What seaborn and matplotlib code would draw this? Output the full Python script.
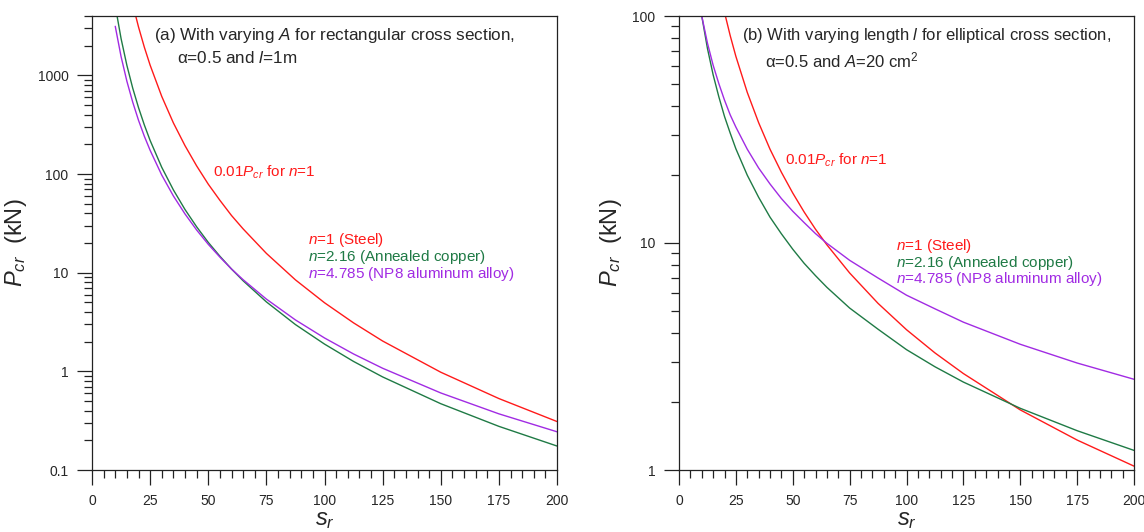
import numpy as np
import pandas as pd
import matplotlib
matplotlib.use("Agg")
import matplotlib.pyplot as plt
import seaborn as sns
from matplotlib.ticker import FixedLocator, FuncFormatter, LogLocator, NullFormatter, MultipleLocator

# slenderness ratio samples
s_a = [10, 12.5, 15, 17.5, 20, 22.5, 25, 30, 35, 40, 45, 50, 55, 60, 65, 75, 87.5, 100, 112.5, 125, 150, 175, 200]
# panel (a): P_cr (kN), log axis
red_a = [None, None, None, 5288, 3100, 1935, 1270, 612, 330, 194, 121, 79, 54.2, 38, 27.8, 15.7, 8.46, 4.96, 3.10, 2.03, 0.98, 0.53, 0.31]
green_a = [5080, 2365, 1265, 745, 472, 315, 219, 117, 69.1, 43.7, 29.2, 20.3, 14.7, 10.9, 8.28, 5.06, 2.98, 1.89, 1.26, 0.878, 0.47, 0.277, 0.175]
purple_a = [3145, 1553, 873, 537, 351, 242, 174, 97.6, 60.0, 39.4, 27.1, 19.4, 14.4, 10.9, 8.49, 5.40, 3.32, 2.18, 1.50, 1.075, 0.604, 0.371, 0.244]

# panel (b)
s_b = [10, 12.5, 15, 17.5, 20, 22.5, 25, 30, 35, 40, 45, 50, 55, 60, 65, 75, 87.5, 100, 112.5, 125, 150, 175, 200]
red_b = [None, None, None, None, 103.8, 82.0, 66.4, 46.1, 33.9, 25.9, 20.5, 16.6, 13.7, 11.5, 9.82, 7.38, 5.42, 4.15, 3.28, 2.66, 1.84, 1.355, 1.04]
green_b = [100, 72.0, 55.1, 44.1, 36.1, 30.5, 26.0, 19.9, 15.9, 13.0, 10.98, 9.39, 8.14, 7.18, 6.38, 5.17, 4.17, 3.39, 2.85, 2.44, 1.87, 1.49, 1.22]
purple_b = [100, 76.0, 60.7, 50.4, 42.6, 36.7, 32.4, 25.9, 21.4, 18.2, 15.7, 13.8, 12.3, 11.0, 9.97, 8.39, 7.01, 5.89, 5.13, 4.48, 3.58, 2.96, 2.51]

series = ["red", "green", "purple"]
colors = {"red": "#ff1a1a", "green": "#1f7a45", "purple": "#a12be3"}

x_ticks = [0, 25, 50, 75, 100, 125, 150, 175, 200]


def long_df(s, red, green, purple):
    rows = []
    for name, vals in zip(series, [red, green, purple]):
        for x, y in zip(s, vals):
            if y is not None:
                rows.append({"s": x, "P": y, "curve": name})
    return pd.DataFrame(rows)


sns.set_style("ticks")
plt.rcParams["font.family"] = ["Liberation Sans", "DejaVu Sans"]
plt.rcParams["mathtext.fontset"] = "custom"
plt.rcParams["mathtext.rm"] = "Liberation Sans"
plt.rcParams["mathtext.it"] = "Liberation Sans:italic"
plt.rcParams["axes.linewidth"] = 0.9

fig = plt.figure(figsize=(11.44, 5.32), dpi=100)
ax1 = fig.add_axes([92 / 1144, 62 / 532, 465 / 1144, 454 / 532])
ax2 = fig.add_axes([679 / 1144, 62 / 532, 455 / 1144, 454 / 532])


def style_axis(ax, ylim, major):
    ax.set_yscale("log")
    ax.set_xlim(0, 200)
    ax.set_ylim(*ylim)
    ax.xaxis.set_major_locator(FixedLocator(x_ticks))
    ax.xaxis.set_minor_locator(MultipleLocator(5))
    ax.yaxis.set_major_locator(FixedLocator(major))
    ax.yaxis.set_major_formatter(FuncFormatter(lambda v, p: f"{v:g}"))
    ax.yaxis.set_minor_locator(LogLocator(base=10, subs=np.arange(2, 10), numticks=20))
    ax.yaxis.set_minor_formatter(NullFormatter())
    ax.tick_params(which="major", direction="out", length=11, width=0.9, labelsize=10, pad=6, color="#222222")
    ax.tick_params(which="minor", direction="out", length=6, width=0.9, color="#222222")
    for sp in ax.spines.values():
        sp.set_visible(True)
        sp.set_color("#222222")
    ax.set_xlabel("$s_r$", fontsize=17)
    ax.set_ylabel("$P_{cr}$  (kN)", fontsize=17)
    ax.xaxis.set_label_coords(0.5, -0.085)


df_a = long_df(s_a, red_a, green_a, purple_a)
sns.lineplot(data=df_a, x="s", y="P", hue="curve", palette=colors, ax=ax1,
             legend=False, linewidth=1.0, estimator=None, sort=True)
style_axis(ax1, (0.1, 4000), [0.1, 1, 10, 100, 1000])
ax1.yaxis.set_label_coords(-0.135, 0.5)

df_b = long_df(s_b, red_b, green_b, purple_b)
sns.lineplot(data=df_b, x="s", y="P", hue="curve", palette=colors, ax=ax2,
             legend=False, linewidth=1.0, estimator=None, sort=True)
style_axis(ax2, (1, 100), [1, 10, 100])
ax2.yaxis.set_label_coords(-0.12, 0.5)

tf = 12.3
lf = 11
ax1.text(0.133, 0.956, "(a) With varying $A$ for rectangular cross section,", transform=ax1.transAxes,
         fontsize=tf, va="center", ha="left")
ax1.text(0.183, 0.907, "α=0.5 and $l$=1m", transform=ax1.transAxes, fontsize=tf, va="center", ha="left")
ax1.text(0.26, 0.656, "0.01$P_{cr}$ for $n$=1", transform=ax1.transAxes, fontsize=lf,
         va="center", ha="left", color=colors["red"])
ax1.text(0.465, 0.507, "$n$=1 (Steel)", transform=ax1.transAxes, fontsize=lf, va="center", color=colors["red"])
ax1.text(0.465, 0.469, "$n$=2.16 (Annealed copper)", transform=ax1.transAxes, fontsize=lf, va="center",
         color=colors["green"])
ax1.text(0.465, 0.432, "$n$=4.785 (NP8 aluminum alloy)", transform=ax1.transAxes, fontsize=lf, va="center",
         color=colors["purple"])

ax2.text(0.138, 0.956, "(b) With varying length $l$ for elliptical cross section,", transform=ax2.transAxes,
         fontsize=12, va="center", ha="left")
ax2.text(0.189, 0.903, "α=0.5 and $A$=20 cm$^2$", transform=ax2.transAxes, fontsize=12, va="center", ha="left")
ax2.text(0.233, 0.683, "0.01$P_{cr}$ for $n$=1", transform=ax2.transAxes, fontsize=lf,
         va="center", ha="left", color=colors["red"])
ax2.text(0.478, 0.494, "$n$=1 (Steel)", transform=ax2.transAxes, fontsize=lf, va="center", color=colors["red"])
ax2.text(0.478, 0.457, "$n$=2.16 (Annealed copper)", transform=ax2.transAxes, fontsize=lf, va="center",
         color=colors["green"])
ax2.text(0.478, 0.42, "$n$=4.785 (NP8 aluminum alloy)", transform=ax2.transAxes, fontsize=lf, va="center",
         color=colors["purple"])

fig.savefig("out.png", dpi=100)
